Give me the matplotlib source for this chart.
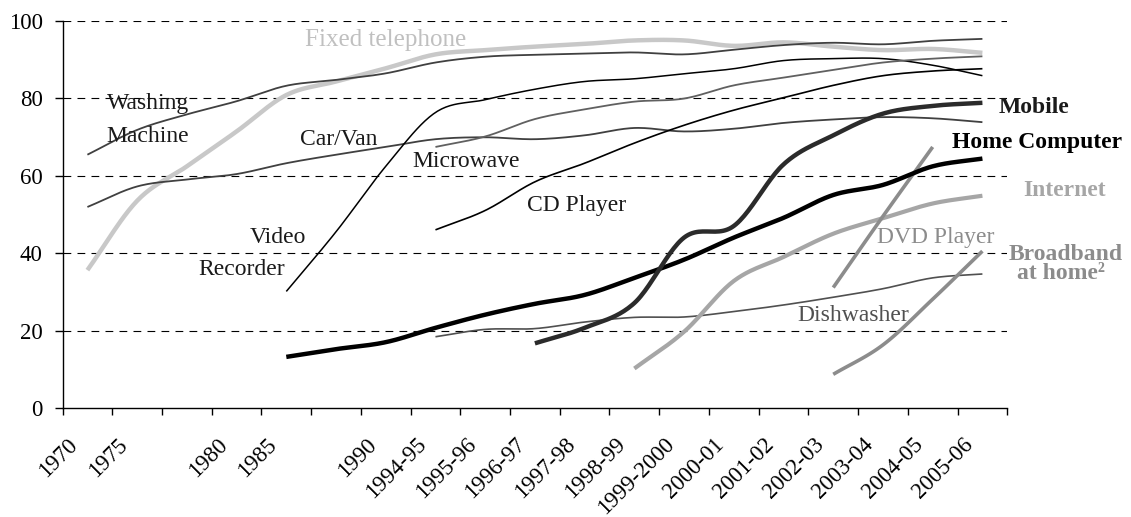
import matplotlib
matplotlib.use("Agg")
import matplotlib.pyplot as plt
import matplotlib.transforms as mtransforms
import numpy as np

plt.rcParams['font.family'] = ['Liberation Serif', 'DejaVu Serif']

nan = np.nan

# categories (blank entries are unlabeled slots on the axis)
categories = ['1970', '1975', '', '1980', '1985', '', '1990', '1994-95', '1995-96',
              '1996-97', '1997-98', '1998-99', '1999-2000', '2000-01', '2001-02',
              '2002-03', '2003-04', '2004-05', '2005-06']

washing_machine = [65.4, 71.8, 75.8, 79.2, 83.2, 84.7, 86.4, 89.2, 90.7, 91.2, 91.5,
                   91.8, 91.3, 92.5, 93.7, 94.3, 93.9, 94.8, 95.3]
fixed_telephone = [35.6, 53.5, 62.4, 71.4, 80.8, 84.3, 87.7, 91.3, 92.4, 93.3, 94,
                   94.9, 94.9, 93.5, 94.4, 93.3, 92.4, 92.7, 91.7]
car_van = [51.9, 57.2, 59, 60.4, 63.2, 65.4, 67.4, 69.4, 69.9, 69.4, 70.4, 72.3,
           71.4, 72.1, 73.6, 74.5, 75.1, 74.8, 73.8]
video_recorder = [nan, nan, nan, nan, 30.1, 45.5, 62.4, 76.3, 79.6, 82.3, 84.3, 85,
                  86.3, 87.6, 89.7, 90.2, 90.2, 88.5, 85.8]
cd_player = [nan] * 7 + [46, 51, 58.4, 63.2, 68.4, 73, 76.9, 80.1, 83.3, 85.8, 87,
                         87.6]
microwave = [nan] * 7 + [67.4, 70.1, 74.6, 77.1, 79.1, 79.9, 83.3, 85.3, 87.3, 89.2,
                         90.2, 90.8]
home_computer = [nan] * 4 + [13.2, 15.2, 17, 20.7, 24.1, 26.9, 29.2, 33.6, 38.3, 44,
                             49.1, 55, 57.6, 62.4, 64.4]
mobile = [nan] * 9 + [16.7, 20.7, 27.1, 44, 47, 62.9, 70.4, 76, 78, 78.8]
internet = [nan] * 11 + [10.2, 19.7, 32.8, 39, 45, 49, 52.8, 54.8]
dishwasher = [nan] * 7 + [18.4, 20.3, 20.5, 22.2, 23.4, 23.5, 24.9, 26.6, 28.6, 30.8,
                          33.6, 34.6]
dvd_player = [nan] * 15 + [31.1, 49.5, 67.4, nan]
broadband = [nan] * 15 + [8.7, 16.3, 28.1, 40.5]


def smooth(y, n=24):
    # Catmull-Rom curve through the valid points (like Excel's smoothed lines)
    y = np.asarray(y, dtype=float)
    x = np.arange(len(y), dtype=float)
    ok = ~np.isnan(y)
    pts = np.column_stack([x[ok], y[ok]])
    p = np.vstack([2 * pts[0] - pts[1], pts, 2 * pts[-1] - pts[-2]])
    t = np.linspace(0, 1, n, endpoint=False)[:, None]
    out = []
    for k in range(1, len(p) - 2):
        p0, p1, p2, p3 = p[k - 1], p[k], p[k + 1], p[k + 2]
        seg = 0.5 * (2 * p1 + (-p0 + p2) * t + (2 * p0 - 5 * p1 + 4 * p2 - p3) * t ** 2
                     + (-p0 + 3 * p1 - 3 * p2 + p3) * t ** 3)
        out.append(seg)
    out.append(pts[-1][None])
    res = np.vstack(out)
    return res[:, 0], res[:, 1]


fig = plt.figure(figsize=(11.31, 5.17), dpi=100)
ax = fig.add_axes([0.0553, 0.2108, 0.8353, 0.7492])

series = [
    (fixed_telephone, '#c8c8c8', 3.2),
    (washing_machine, '#404040', 1.3),
    (car_van, '#404040', 1.3),
    (video_recorder, '#000000', 1.1),
    (cd_player, '#000000', 1.2),
    (microwave, '#606060', 1.3),
    (dishwasher, '#505050', 1.2),
    (internet, '#a6a6a6', 3.0),
    (dvd_player, '#8c8c8c', 2.6),
    (broadband, '#8c8c8c', 2.6),
    (home_computer, '#000000', 3.2),
    (mobile, '#2b2b2b', 3.2),
]
for vals, col, lw in series:
    xs, ys = smooth(vals)
    ax.plot(xs, ys, color=col, lw=lw, solid_capstyle='butt', zorder=3)

ax.set_xlim(-0.5, len(categories) - 0.5)
ax.set_ylim(0, 100)
ax.set_yticks([0, 20, 40, 60, 80, 100])
for v in [20, 40, 60, 80, 100]:
    ax.axhline(v, color='black', lw=0.8, dashes=(7, 5.6), zorder=1)

# tick marks sit between categories; the labels are drawn as rotated texts
ax.set_xticks(np.arange(len(categories) + 1) - 0.5)
ax.set_xticklabels([])
ax.tick_params(axis='x', length=5.3, width=1, direction='out')
ax.tick_params(axis='y', length=5.8, width=1, direction='out', labelsize=16.5, pad=8.5)

shift = mtransforms.ScaledTranslation(-20 / 100, -26 / 100, fig.dpi_scale_trans)
lab_trans = ax.get_xaxis_transform() + shift
for i, cat in enumerate(categories):
    if cat:
        ax.text(i, 0, cat, transform=lab_trans, rotation=45, ha='right', va='top',
                rotation_mode='anchor', fontsize=16.5, clip_on=False)

for s in ['top', 'right']:
    ax.spines[s].set_visible(False)
for s in ['left', 'bottom']:
    ax.spines[s].set_linewidth(1)

fs = 17
labels = [
    ('Fixed telephone', 4.375, 93.5, '#c0c0c0', 'normal'),
    ('Washing', 0.385, 77.1, '#1a1a1a', 'normal'),
    ('Machine', 0.385, 68.8, '#1a1a1a', 'normal'),
    ('Car/Van', 4.275, 67.9, '#1a1a1a', 'normal'),
    ('Microwave', 6.53, 62.1, '#1a1a1a', 'normal'),
    ('CD Player', 8.84, 50.9, '#1a1a1a', 'normal'),
    ('Video', 3.255, 42.7, '#1a1a1a', 'normal'),
    ('Recorder', 2.23, 34.3, '#1a1a1a', 'normal'),
    ('DVD Player', 15.88, 42.5, '#8c8c8c', 'normal'),
    ('Dishwasher', 14.28, 22.5, '#505050', 'normal'),
    ('Mobile', 18.33, 76.1, '#1a1a1a', 'bold'),
    ('Home Computer', 17.39, 67.1, '#000000', 'bold'),
    ('Internet', 18.82, 54.7, '#a6a6a6', 'bold'),
    ('Broadband', 18.52, 38.2, '#8c8c8c', 'bold'),
    ('at home\u00b2', 18.7, 33.2, '#8c8c8c', 'bold'),
]
for txt, x, y, col, wt in labels:
    size = 18 if txt == 'Fixed telephone' else fs
    ax.text(x, y, txt, color=col, fontsize=size, fontweight=wt, ha='left',
            va='baseline', clip_on=False, zorder=4)

fig.savefig('out.png', dpi=100)
